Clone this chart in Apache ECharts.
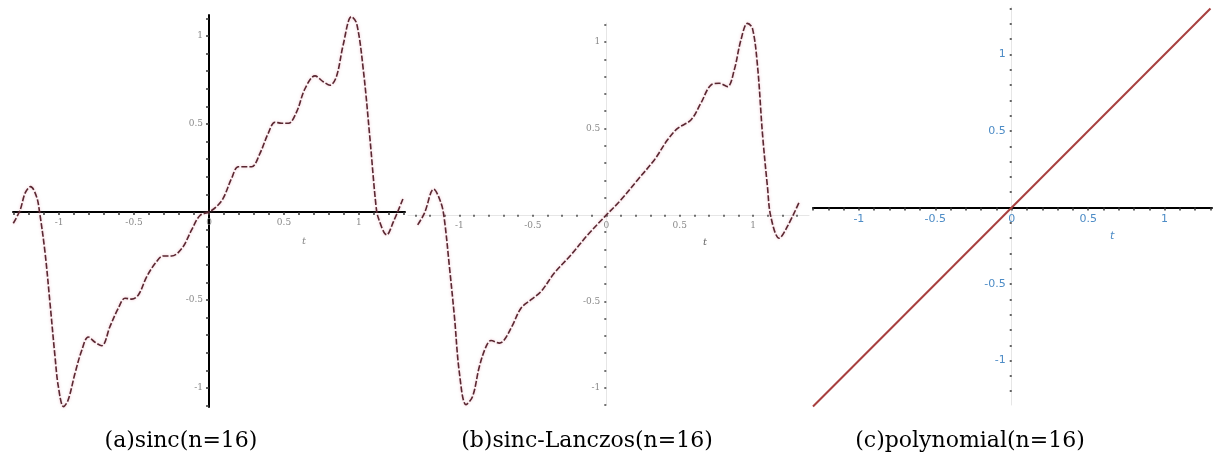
<!DOCTYPE html>
<html>
<head>
<meta charset="utf-8">
<title>sinc / sinc-Lanczos / polynomial (n=16)</title>
<script src="https://cdn.jsdelivr.net/npm/echarts@6/dist/echarts.min.js"></script>
<style>
  html, body { margin: 0; padding: 0; background: #fff; }
  #chart { width: 1213px; height: 465px; }
</style>
</head>
<body>
<div id="chart"></div>
<script>
/* ===== data ===== */
// (a) sinc, n=16 : [x, y]
const sincPts = [
  [-1.305, -0.064], [-1.26, 0.01], [-1.225, 0.11], [-1.19, 0.144], [-1.15, 0.087],
  [-1.13, 0.0], [-1.093, -0.233], [-1.06, -0.52], [-1.027, -0.82], [-1.005, -0.99],
  [-0.97, -1.106], [-0.94, -1.07], [-0.893, -0.915], [-0.85, -0.79], [-0.805, -0.71],
  [-0.76, -0.74], [-0.715, -0.76], [-0.66, -0.65], [-0.605, -0.547], [-0.56, -0.49],
  [-0.515, -0.495], [-0.47, -0.47], [-0.415, -0.367], [-0.35, -0.282], [-0.305, -0.25],
  [-0.25, -0.25], [-0.18, -0.206], [-0.115, -0.10], [-0.06, -0.02], [0.0, 0.0],
  [0.05, 0.03], [0.095, 0.078], [0.15, 0.19], [0.195, 0.257], [0.24, 0.257],
  [0.285, 0.257], [0.34, 0.333], [0.395, 0.447], [0.44, 0.51], [0.485, 0.504],
  [0.53, 0.504], [0.585, 0.57], [0.64, 0.70], [0.707, 0.773], [0.762, 0.74],
  [0.807, 0.72], [0.85, 0.77], [0.895, 0.95], [0.95, 1.11], [0.985, 1.07],
  [1.03, 0.80], [1.073, 0.42], [1.113, 0.04], [1.13, -0.036], [1.185, -0.13],
  [1.23, -0.055], [1.295, 0.078]
];

// (b) sinc-Lanczos, n=16
const lanczosPts = [
  [-1.284, -0.058], [-1.238, 0.01], [-1.175, 0.148], [-1.125, 0.068], [-1.102, -0.029],
  [-1.068, -0.30], [-1.034, -0.588], [-1.0, -0.915], [-0.955, -1.098], [-0.91, -1.05],
  [-0.864, -0.877], [-0.818, -0.761], [-0.785, -0.727], [-0.728, -0.742], [-0.694, -0.723],
  [-0.637, -0.636], [-0.58, -0.539], [-0.512, -0.491], [-0.444, -0.443], [-0.354, -0.337],
  [-0.24, -0.231], [-0.127, -0.116], [-0.01, -0.01], [0.1, 0.087], [0.213, 0.202],
  [0.327, 0.318], [0.417, 0.434], [0.485, 0.50], [0.576, 0.549], [0.644, 0.646],
  [0.712, 0.751], [0.769, 0.761], [0.825, 0.742], [0.871, 0.838], [0.916, 1.01],
  [0.961, 1.108], [0.995, 1.079], [1.03, 0.857], [1.063, 0.472], [1.097, 0.164],
  [1.12, -0.01], [1.177, -0.135], [1.233, -0.067], [1.315, 0.077]
];

// (c) polynomial, n=16
const polyPts = [[-1.3, -1.3], [1.3, 1.3]];

/* ===== ticks ===== */
const xTicks = [-1.3, -1.2, -1.1, -1, -0.9, -0.8, -0.7, -0.6, -0.5, -0.4, -0.3, -0.2, -0.1,
  0, 0.1, 0.2, 0.3, 0.4, 0.5, 0.6, 0.7, 0.8, 0.9, 1, 1.1, 1.2, 1.3];
const yTicks = [-1.2, -1.1, -1, -0.9, -0.8, -0.7, -0.6, -0.5, -0.4, -0.3, -0.2, -0.1,
  0.1, 0.2, 0.3, 0.4, 0.5, 0.6, 0.7, 0.8, 0.9, 1, 1.1, 1.2, 1.3];
const xLabels = [-1, -0.5, 0, 0.5, 1];
const yLabels = [-1, -0.5, 0.5, 1];

const captions = ["(a)sinc(n=16)", "(b)sinc-Lanczos(n=16)", "(c)polynomial(n=16)"];

/* ===== panel layout (pixels) + axis ranges ===== */
const panels = [
  { left: 13, top: 15, width: 392, height: 392, xMin: -1.307, xMax: 1.307, yMin: -1.108, yMax: 1.119 },
  { left: 408, top: 23, width: 401, height: 382, xMin: -1.35, xMax: 1.38, yMin: -1.1, yMax: 1.11 },
  { left: 813, top: 7, width: 399, height: 398, xMin: -1.3, xMax: 1.31, yMin: -1.29, yMax: 1.31 }
];

/* 轴放到 0 处：用 offset 让线、刻度、标签一起移动 */
function xAxisOf(idx, lineColor, tickColor, labelStyle, tickLen) {
  const p = panels[idx];
  const zeroY = p.top + p.height * p.yMax / (p.yMax - p.yMin);
  return {
    type: "value", gridIndex: idx, min: p.xMin, max: p.xMax,
    position: "bottom", offset: -(p.top + p.height - zeroY),
    axisLine: { onZero: false, lineStyle: { color: lineColor, width: lineColor === "#000" ? 2 : 1 } },
    axisTick: { customValues: xTicks.filter(v => v >= p.xMin && v <= p.xMax), length: tickLen,
      lineStyle: { color: tickColor, width: 1.5 } },
    axisLabel: Object.assign({ customValues: xLabels, margin: 6 }, labelStyle),
    splitLine: { show: false }
  };
}
function yAxisOf(idx, lineColor, tickColor, labelStyle, tickLen) {
  const p = panels[idx];
  const zeroX = p.left + p.width * (-p.xMin) / (p.xMax - p.xMin);
  return {
    type: "value", gridIndex: idx, min: p.yMin, max: p.yMax,
    position: "left", offset: -(zeroX - p.left),
    axisLine: { onZero: false, lineStyle: { color: lineColor, width: lineColor === "#000" ? 2 : 1 } },
    axisTick: { customValues: yTicks.filter(v => v >= p.yMin && v <= p.yMax), length: tickLen,
      lineStyle: { color: tickColor, width: 1.5 } },
    axisLabel: Object.assign({ customValues: yLabels, margin: 6 }, labelStyle),
    splitLine: { show: false }
  };
}

const greyLabel = { color: "#8a8a8a", fontSize: 9, fontFamily: "DejaVu Serif" };
const blueLabel = { color: "#4d8cc6", fontSize: 11, fontFamily: "DejaVu Sans" };

const dashedCurve = {
  color: "#5a2731", width: 1.6, type: [6, 2],
  shadowColor: "rgba(220,130,150,0.55)", shadowBlur: 3
};

const chart = echarts.init(document.getElementById("chart"));
chart.setOption({
  backgroundColor: "#fff",
  animation: false,
  grid: panels.map(p => ({ left: p.left, top: p.top, width: p.width, height: p.height })),
  xAxis: [
    xAxisOf(0, "#000", "#333", greyLabel, 3),
    xAxisOf(1, "#e6e6e6", "#444", greyLabel, 2),
    xAxisOf(2, "#000", "#333", blueLabel, 3)
  ],
  yAxis: [
    yAxisOf(0, "#000", "#333", greyLabel, 3),
    yAxisOf(1, "#e6e6e6", "#444", greyLabel, 2),
    yAxisOf(2, "#e6e6e6", "#333", blueLabel, 2)
  ],
  series: [
    { name: "sinc", type: "line", xAxisIndex: 0, yAxisIndex: 0, data: sincPts,
      showSymbol: false, smooth: 0.35, clip: false, lineStyle: dashedCurve },
    { name: "sinc-Lanczos", type: "line", xAxisIndex: 1, yAxisIndex: 1, data: lanczosPts,
      showSymbol: false, smooth: 0.35, clip: false, lineStyle: dashedCurve },
    { name: "polynomial", type: "line", xAxisIndex: 2, yAxisIndex: 2, data: polyPts,
      showSymbol: false, clip: false, lineStyle: { color: "#a8403f", width: 2 } }
  ],
  graphic: [
    // axis names
    { type: "text", left: 302, top: 236, style: { text: "t", fill: "#888", fontSize: 10, fontStyle: "italic", fontFamily: "DejaVu Serif" } },
    { type: "text", left: 703, top: 237, style: { text: "t", fill: "#666", fontSize: 10, fontStyle: "italic", fontFamily: "DejaVu Serif" } },
    { type: "text", left: 1110, top: 231, style: { text: "t", fill: "#4d8cc6", fontSize: 11, fontStyle: "italic", fontFamily: "DejaVu Sans" } },
    // captions
    { type: "text", x: 181, y: 441, style: { text: captions[0], fill: "#000", fontSize: 22, fontFamily: "DejaVu Serif", align: "center", verticalAlign: "middle" } },
    { type: "text", x: 587, y: 441, style: { text: captions[1], fill: "#000", fontSize: 22, fontFamily: "DejaVu Serif", align: "center", verticalAlign: "middle" } },
    { type: "text", x: 970, y: 441, style: { text: captions[2], fill: "#000", fontSize: 22, fontFamily: "DejaVu Serif", align: "center", verticalAlign: "middle" } }
  ]
});
</script>
</body>
</html>
